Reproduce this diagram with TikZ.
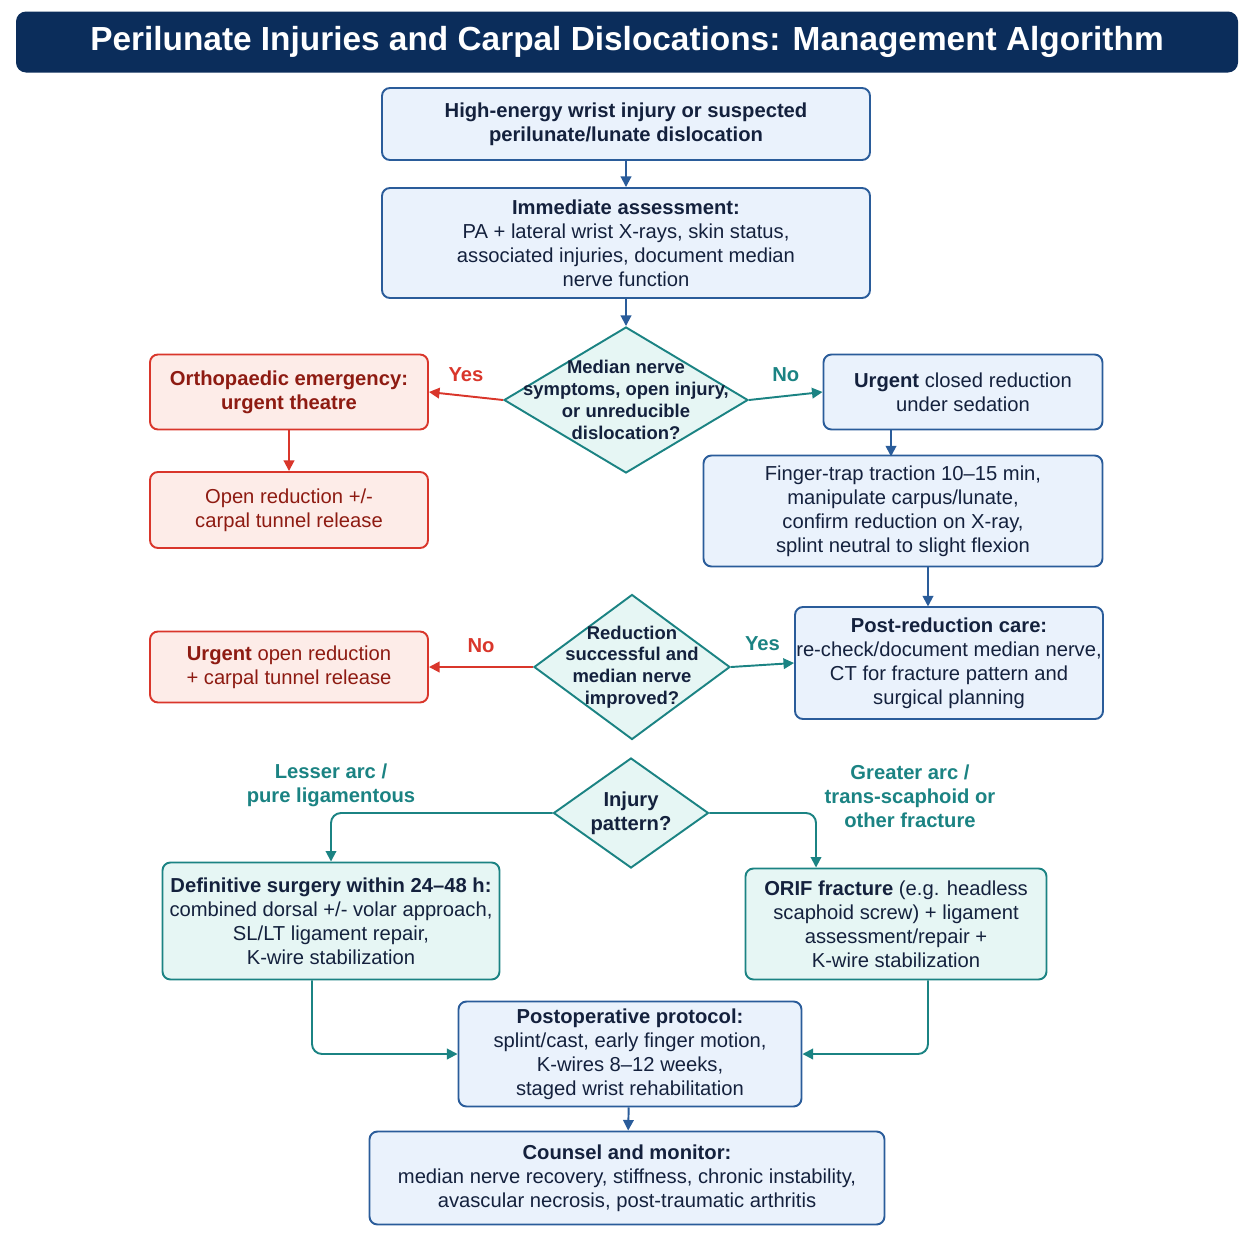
\documentclass[tikz,border=0pt]{standalone}
\usepackage{fontspec}
\setmainfont{Liberation Sans}
\usetikzlibrary{shapes.geometric,arrows.meta,positioning}
\definecolor{navy}{HTML}{0B2D5B}
\definecolor{bluedraw}{HTML}{2A5C9A}
\definecolor{bluefill}{HTML}{EAF2FC}
\definecolor{reddraw}{HTML}{D9362B}
\definecolor{redfill}{HTML}{FDECE8}
\definecolor{redtext}{HTML}{8E1B12}
\definecolor{tealdraw}{HTML}{1B8383}
\definecolor{tealfill}{HTML}{E6F6F4}
\definecolor{txt}{HTML}{14213D}
\tikzset{
  box/.style={draw=bluedraw, fill=bluefill, rounded corners=0.16cm, line width=1.1pt,
    align=center, text=txt, inner sep=0pt, font=\fontsize{11.5}{13.6}\selectfont},
  redbox/.style={box, draw=reddraw, fill=redfill, text=redtext},
  tealbox/.style={box, draw=tealdraw, fill=tealfill},
  decide/.style={diamond, draw=tealdraw, fill=tealfill, line width=1.1pt, inner sep=0pt},
  dtext/.style={align=center, text=txt, font=\fontsize{10.5}{12.4}\selectfont\bfseries},
  arr/.style={-{Triangle[length=6pt,width=6pt]}, line width=1.1pt, draw=bluedraw},
  redarr/.style={arr, draw=reddraw},
  tealarr/.style={arr, draw=tealdraw},
  lab/.style={font=\fontsize{11.5}{13.6}\selectfont\bfseries, align=center}
}
\begin{document}
\begin{tikzpicture}[x=0.02cm,y=-0.02cm]
\useasboundingbox (0,0) rectangle (1254,1254);
% title
\node[fill=navy, rounded corners=0.2cm, minimum width=1222*0.02cm, minimum height=61*0.02cm,
  text=white, font=\fontsize{19}{22}\selectfont\bfseries] (title) at (627,42)
  {Perilunate Injuries and Carpal Dislocations: Management Algorithm};

\node[box, minimum width=488*0.02cm, minimum height=72*0.02cm] (inj) at (626,124)
  {\bfseries High-energy wrist injury or suspected\\ \bfseries perilunate/lunate dislocation};
\node[box, minimum width=488*0.02cm, minimum height=110*0.02cm] (assess) at (626,243)
  {\textbf{Immediate assessment:}\\PA + lateral wrist X-rays, skin status,\\associated injuries, document median\\nerve function};

\node[decide, minimum width=244*0.02cm, minimum height=146*0.02cm] (nerve) at (626,400) {};
\node[dtext] at (nerve) {Median nerve\\symptoms, open injury,\\or unreducible\\dislocation?};

\node[redbox, minimum width=278*0.02cm, minimum height=75*0.02cm] (emerg) at (289,392)
  {\bfseries Orthopaedic emergency:\\ \bfseries urgent theatre};
\node[redbox, minimum width=278*0.02cm, minimum height=76*0.02cm] (openred) at (289,510)
  {Open reduction +/-\\carpal tunnel release};
\node[box, minimum width=279*0.02cm, minimum height=75*0.02cm] (closed) at (963,392)
  {\textbf{Urgent} closed reduction\\under sedation};
\node[box, minimum width=399*0.02cm, minimum height=111*0.02cm] (trap) at (903,511)
  {Finger-trap traction 10--15 min,\\manipulate carpus/lunate,\\confirm reduction on X-ray,\\splint neutral to slight flexion};

\node[decide, minimum width=196*0.02cm, minimum height=145*0.02cm] (success) at (632,667) {};
\node[dtext] at (success) {Reduction\\successful and\\median nerve\\improved?};
\node[redbox, minimum width=278*0.02cm, minimum height=71*0.02cm] (urgopen) at (289,667)
  {\textbf{Urgent} open reduction\\+ carpal tunnel release};
\node[box, minimum width=308*0.02cm, minimum height=112*0.02cm] (post) at (949,663)
  {\textbf{Post-reduction care:}\\re-check/document median nerve,\\CT for fracture pattern and\\surgical planning};

\node[decide, minimum width=155*0.02cm, minimum height=110*0.02cm] (pattern) at (631,813) {};
\node[dtext, font=\fontsize{11.5}{13.6}\selectfont\bfseries] at (pattern) {Injury\\pattern?};

\node[tealbox, minimum width=337*0.02cm, minimum height=117*0.02cm] (defin) at (331,921)
  {\textbf{Definitive surgery within 24--48 h:}\\combined dorsal +/- volar approach,\\SL/LT ligament repair,\\K-wire stabilization};
\node[tealbox, minimum width=301*0.02cm, minimum height=111*0.02cm] (orif) at (896,924)
  {\textbf{ORIF fracture} (e.g. headless\\scaphoid screw) + ligament\\assessment/repair +\\K-wire stabilization};

\node[box, minimum width=343*0.02cm, minimum height=105*0.02cm] (postop) at (630,1054)
  {\textbf{Postoperative protocol:}\\splint/cast, early finger motion,\\K-wires 8--12 weeks,\\staged wrist rehabilitation};
\node[box, minimum width=515*0.02cm, minimum height=93*0.02cm] (counsel) at (627,1178)
  {\textbf{Counsel and monitor:}\\median nerve recovery, stiffness, chronic instability,\\avascular necrosis, post-traumatic arthritis};

% connectors
\draw[arr] (inj) -- (assess);
\draw[arr] (assess) -- (nerve);
\draw[redarr] (nerve.west) -- (emerg.east) node[midway, above=4pt, lab, text=reddraw] {Yes};
\draw[tealarr] (nerve.east) -- (closed.west) node[midway, above=4pt, lab, text=tealdraw] {No};
\draw[redarr] (emerg) -- (openred);
\draw[arr] (closed.south -| trap.center) ++(-12,0) -- ++(0,26);
\draw[arr] (trap.south -| post.center) ++(-21,0) -- ++(0,39);
\draw[redarr] (success.west) -- (urgopen.east) node[midway, above=4pt, lab, text=reddraw] {No};
\draw[tealarr] (success.east) -- (post.west) node[midway, above=4pt, lab, text=tealdraw] {Yes};
\draw[tealarr, rounded corners=0.2cm] (pattern.west) -| (defin.north);
\draw[tealarr, rounded corners=0.2cm] (pattern.east) -| ([xshift=-1.6cm]orif.north);
\node[lab, text=tealdraw] at (331,785) {Lesser arc /\\pure ligamentous};
\node[lab, text=tealdraw] at (910,796) {Greater arc /\\trans-scaphoid or\\other fracture};
\draw[tealarr, rounded corners=0.2cm] ([xshift=-0.38cm]defin.south) |- (postop.west);
\draw[tealarr, rounded corners=0.2cm] ([xshift=0.64cm]orif.south) |- (postop.east);
\draw[arr] (postop) -- (counsel);
\end{tikzpicture}
\end{document}
